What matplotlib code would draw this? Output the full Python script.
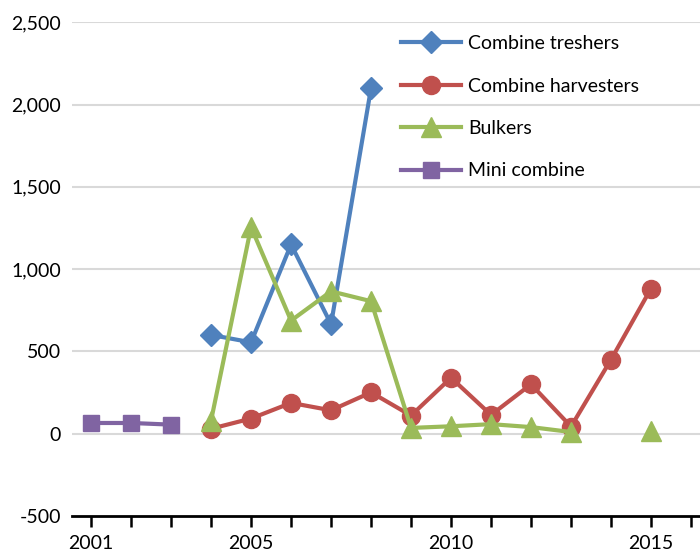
import matplotlib
matplotlib.use("Agg")
import matplotlib.pyplot as plt
import numpy as np

plt.rcParams['font.family'] = ['Lato', 'DejaVu Sans']

years = np.arange(2001, 2016)
nan = np.nan

combine_treshers = [nan, nan, nan, 600, 555, 1150, 665, 2100, nan, nan, nan, nan, nan, nan, nan]
combine_harvesters = [nan, nan, nan, 30, 92, 187, 142, 251, 110, 340, 114, 300, 43, 450, 882]
bulkers = [nan, nan, nan, 80, 1255, 687, 865, 805, 35, 45, 58, 40, 10, nan, 14]
mini_combine = [65, 65, 55, nan, nan, nan, nan, nan, nan, nan, nan, nan, nan, nan, nan]

tick_years = list(range(2001, 2017))
tick_labels = [str(y) if y in (2001, 2005, 2010, 2015) else '' for y in tick_years]
y_ticks = [-500, 0, 500, 1000, 1500, 2000, 2500]

fig = plt.figure(figsize=(7, 5.56), dpi=100)
ax = fig.add_axes([0.103, 0.072, 0.897, 0.888])

ax.plot(years, combine_treshers, color='#4F81BD', lw=3, marker='D', ms=11, label='Combine treshers', zorder=3)
ax.plot(years, combine_harvesters, color='#C0504D', lw=3, marker='o', ms=13, label='Combine harvesters', zorder=3)
ax.plot(years, bulkers, color='#9BBB59', lw=3, marker='^', ms=14, label='Bulkers', zorder=4)
ax.plot(years, mini_combine, color='#8064A2', lw=3, marker='s', ms=12, label='Mini combine', zorder=3)

ax.set_xlim(2000.525, 2016.225)
ax.set_ylim(-500, 2500)
ax.set_yticks(y_ticks)
ax.set_yticklabels(['-500' if v < 0 else f'{v:,}' for v in y_ticks])
ax.set_xticks(tick_years)
ax.set_xticklabels(tick_labels)

for v in y_ticks[1:]:
    ax.axhline(v, color='#D9D9D9', lw=1.5, zorder=1)

for s in ['top', 'right', 'left']:
    ax.spines[s].set_visible(False)
ax.spines['bottom'].set_linewidth(2)
ax.spines['bottom'].set_color('black')

ax.tick_params(axis='x', direction='out', length=8, width=1.8, labelsize=14, pad=6)
ax.tick_params(axis='y', length=0, labelsize=14, pad=8)

ax.legend(loc='upper left', bbox_to_anchor=(0.524, 0.974), frameon=False, fontsize=14,
          borderpad=0, borderaxespad=0, handlelength=3.1, labelspacing=1.31,
          handletextpad=0.36)

fig.savefig('out.png', dpi=100)
